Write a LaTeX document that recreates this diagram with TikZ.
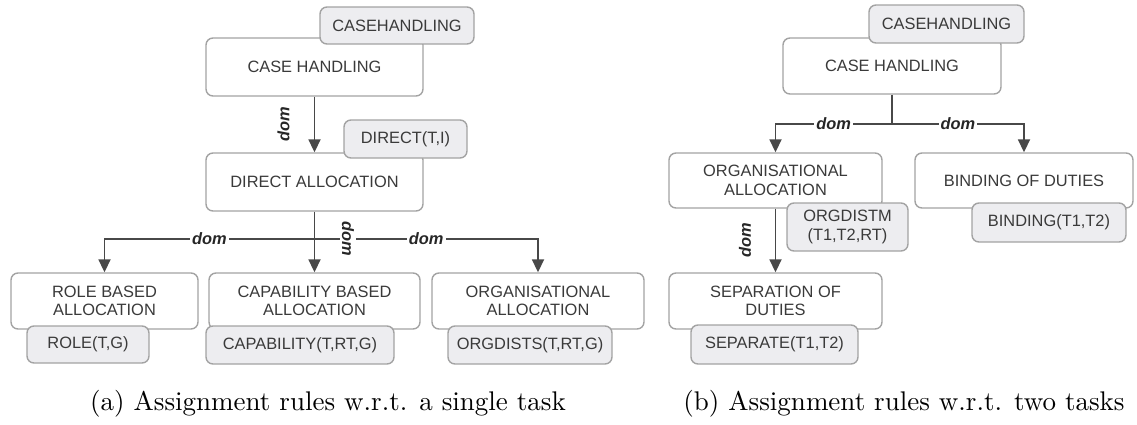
\documentclass[tikz,border=0pt]{standalone}
\usepackage{fontspec}
\newfontfamily\boxfont{Liberation Sans}
\usetikzlibrary{arrows.meta,calc}

\definecolor{boxline}{HTML}{A3A3A3}
\definecolor{tagfill}{HTML}{EDEDF0}
\definecolor{boxtext}{HTML}{3A3A3A}
\definecolor{arrowcol}{HTML}{484848}

\begin{document}
\begin{tikzpicture}[x=0.5pt,y=-0.5pt]
\tikzstyle{box}=[draw=boxline,line width=0.7pt,rounded corners=3.5pt,fill=white,text=boxtext,font=\boxfont\fontsize{8.2}{9.3}\selectfont,align=center,inner sep=0pt]
\tikzstyle{tag}=[box,fill=tagfill]
\tikzstyle{link}=[draw=arrowcol,line width=0.9pt,-{Triangle[width=6pt,length=6.5pt]}]
\tikzstyle{dom}=[fill=white,inner sep=1pt,text=black!85,font=\boxfont\bfseries\itshape\fontsize{8.2}{9.3}\selectfont]
\useasboundingbox (0,0) rectangle (1137,424);

% concept boxes
\foreach \name/\point/\w/\h/\txt in {
	ch1/{314.5,67}/217/58/{CASE HANDLING},
	direct/{314.5,182}/217/58/{DIRECT ALLOCATION},
	role/{104.5,301}/187/56/{ROLE BASED\\ALLOCATION},
	cap/{314.5,301}/211/56/{CAPABILITY BASED\\ALLOCATION},
	org/{538,301}/212/56/{ORGANISATIONAL\\ALLOCATION},
	ch2/{892,66}/218/56/{CASE HANDLING},
	org2/{775.5,180.5}/213/55/{ORGANISATIONAL\\ALLOCATION},
	bind/{1024,180.5}/218/55/{BINDING OF DUTIES},
	sep/{775.5,301}/213/56/{SEPARATION OF\\DUTIES}}
	\node[box,minimum width=\w*0.5pt,minimum height=\h*0.5pt] (\name) at (\point) {\txt};

% rule tags
\foreach \name/\point/\w/\h/\txt in {
	ch1T/{397,25.5}/154/37/{CASEHANDLING},
	directT/{405.5,139}/123/38/{DIRECT(T,I)},
	roleT/{88,344.5}/122/37/{ROLE(T,G)},
	capT/{300,345}/188/38/{CAPABILITY(T,RT,G)},
	orgT/{530,345}/164/38/{ORGDISTS(T,RT,G)},
	ch2T/{946.5,24}/155/38/{CASEHANDLING},
	org2T/{847.5,227}/121/48/{ORGDISTM\\(T1,T2,RT)},
	bindT/{1049,222.5}/154/39/{BINDING(T1,T2)},
	sepT/{774.5,344.5}/167/39/{SEPARATE(T1,T2)}}
	\node[tag,minimum width=\w*0.5pt,minimum height=\h*0.5pt] (\name) at (\point) {\txt};

% (a) single task
\draw[link] (ch1.south) -- (direct.north) node[dom,midway,xshift=-15.5pt,rotate=90] {dom};
\coordinate (split1) at ($(direct.south)+(0,27)$);
\draw[link] (split1) -| (role.north) node[dom,pos=0.25] {dom};
\draw[link] (split1) -| (org.north) node[dom,pos=0.25] {dom};
\draw[link] (direct.south) -- (cap.north) node[dom,pos=0.44,xshift=16.75pt,rotate=-90] {dom};

% (b) two tasks
\coordinate (split2) at ($(ch2.south)+(0,29)$);
\draw[draw=arrowcol,line width=0.9pt] (ch2.south) -- (split2);
\draw[link] (split2) -| (org2.north) node[dom,pos=0.25] {dom};
\draw[link] (split2) -| (bind.north) node[dom,pos=0.25] {dom};
\draw[link] (org2.south) -- (sep.north) node[dom,midway,xshift=-15.25pt,rotate=90] {dom};

% captions
\node[scale=1.35] (capa) at (328,404) {(a) Assignment rules w.r.t. a single task};
\node[scale=1.35] (capb) at (904,404) {(b) Assignment rules w.r.t. two tasks};
\end{tikzpicture}
\end{document}
